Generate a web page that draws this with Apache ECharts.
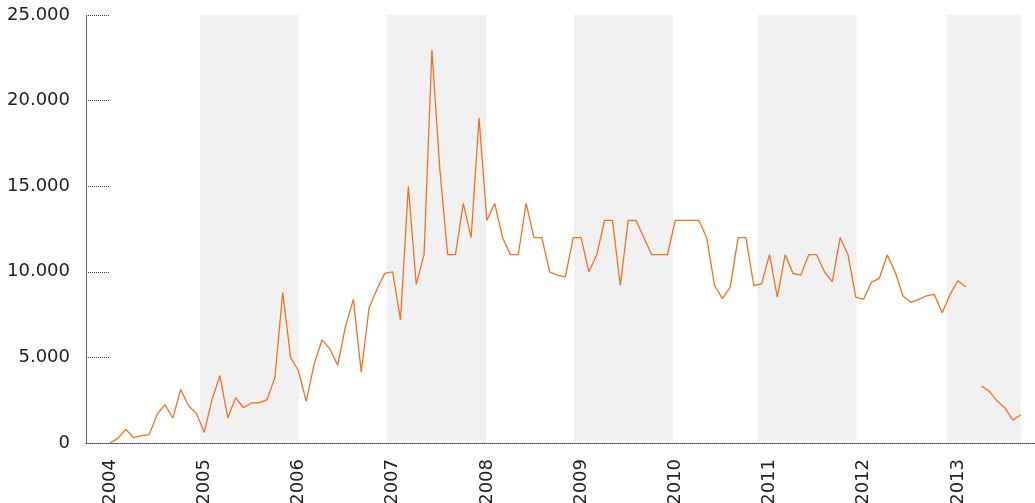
<!DOCTYPE html>
<html>
<head>
    <meta charset="utf-8">
    <script src="https://cdn.jsdelivr.net/npm/echarts@6/dist/echarts.min.js"></script>
    <style type="text/css">
        html, body { margin: 0; padding: 0; background: #fff; }
        #chart { width: 1035px; height: 503px; }
    </style>
</head>
<body>
<div id="chart"></div>
<script>
    // monthly values, index 0 = Jan 2004
    var startYear = 2004;
    var values = [
        0, 270, 800, 310, 430, 490, 1680, 2240, 1460, 3130, 2180, 1730,
        620, 2550, 3930, 1460, 2650, 2060, 2340, 2340, 2530, 3820, 8800, 5000,
        4220, 2430, 4610, 6020, 5510, 4540, 6830, 8390, 4130, 7900, 8980, 9910,
        10000, 7190, 15000, 9270, 11000, 22950, 16050, 11000, 11000, 14000, 12000, 19000,
        13000, 14000, 12000, 11000, 11000, 14000, 12000, 12000, 10000, 9800, 9700, 12000,
        12000, 10000, 11000, 13000, 13000, 9200, 13000, 13000, 12000, 11000, 11000, 11000,
        13000, 13000, 13000, 13000, 12000, 9200, 8430, 9100, 12000, 12000, 9200, 9290,
        11000, 8520, 11000, 9900, 9810, 11000, 11000, 10000, 9420, 12000, 11000, 8510,
        8410, 9400, 9620, 11000, 10000, 8590, 8220, 8390, 8600, 8680, 7610, 8680,
        9480, 9110, null, 3330, 3020, 2450, 2040, 1340, 1650
    ];
    // shaded ranges, in month units
    var bandStart = [11.46, 35.28, 59.1, 82.5, 106.6];
    var bandEnd = [24.07, 47.89, 71.7, 95.1, 116];
    var yearTicks = [0, 12, 24, 36, 48, 60, 72, 84, 96, 108];
    var yTicks = [0, 5000, 10000, 15000, 20000, 25000];

    function fmtThousand(v) {
        return String(v).replace(/\B(?=(\d{3})+(?!\d))/g, '.');
    }

    var chart = echarts.init(document.getElementById('chart'));

    var points = values.map(function (v, i) { return [i, v === null ? '-' : v]; });
    var bands = bandStart.map(function (s, i) { return [{xAxis: s}, {xAxis: bandEnd[i]}]; });

    var option = {
        animation: false,
        backgroundColor: '#ffffff',
        grid: {left: 86, right: 0, top: 15, bottom: 60, containLabel: false, outerBoundsMode: 'none'},
        xAxis: {
            type: 'value',
            min: -3.06,
            max: 117.82,
            z: 10,
            splitLine: {show: false},
            axisLine: {show: true, onZero: false, lineStyle: {color: '#444', type: 'dotted', width: 1}},
            axisTick: {show: false},
            axisLabel: {
                customValues: yearTicks,
                rotate: 90,
                margin: 16,
                color: '#222',
                fontFamily: 'DejaVu Sans',
                fontSize: 18,
                formatter: function (v) { return String(startYear + Math.round(v / 12)); }
            }
        },
        yAxis: {
            type: 'value',
            min: 0,
            max: 25000,
            interval: 5000,
            z: 10,
            splitLine: {show: false},
            axisLine: {show: true, onZero: false, lineStyle: {color: '#444', type: 'dotted', width: 1}},
            axisTick: {
                show: true, inside: true, length: 24,
                customValues: yTicks,
                lineStyle: {color: '#444', type: 'dotted', width: 1}
            },
            axisLabel: {
                margin: 16,
                color: '#222',
                fontFamily: 'DejaVu Sans',
                fontSize: 18,
                formatter: function (v) { return fmtThousand(v); }
            }
        },
        series: [{
            type: 'line',
            data: points,
            showSymbol: false,
            connectNulls: false,
            lineStyle: {color: '#F37021', width: 1.3},
            itemStyle: {color: '#F37021'},
            markArea: {
                silent: true,
                itemStyle: {color: '#f1f1f1'},
                data: bands
            },
            z: 3
        }]
    };

    chart.setOption(option);
</script>
</body>
</html>
